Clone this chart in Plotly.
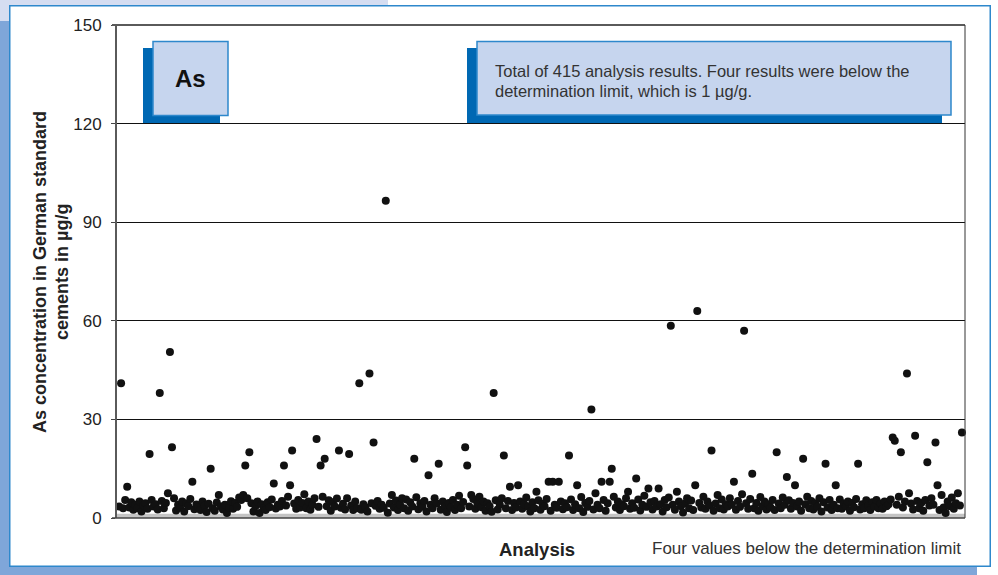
import plotly.graph_objects as go

# Data: As concentration (µg/g) for 415 analyses, in order
as_values = [
    3.5, 41, 3, 5.5, 9.5, 3.2, 4.8, 2.5, 4, 3, 5, 2, 3.8, 4.5, 2.8, 19.5, 5.5, 3.5, 4.2, 2.6,
    38, 5.2, 3, 4.6, 7.5, 50.5, 21.5, 6, 2.3, 4, 3.1, 5, 2, 4.4, 3.6, 5.8, 11, 2.7, 4.1, 3.3,
    2.4, 5, 3.7, 1.8, 4.3, 15, 3, 2.2, 4.7, 7, 3.5, 2.6, 4, 1.5, 3.2, 5.1, 2.8, 4.6, 3.4, 6.2,
    5.5, 7, 16, 6, 20, 4.5, 2, 3.6, 5, 1.5, 4.2, 3, 2.4, 4.8, 3.3, 5.6, 10.5, 2.9, 4, 3.5,
    5.2, 16, 3.8, 6.5, 10, 20.5, 4.4, 2.8, 5.5, 3.2, 4.6, 7.2, 3, 5, 2.5, 4, 6, 24, 3.4, 16,
    6.5, 18, 3.6, 5.4, 2.2, 4.8, 3.5, 5.9, 20.5, 3.1, 4.3, 2.6, 6, 19.5, 3.8, 2.4, 5, 3, 41, 2.5,
    4.2, 3.3, 2, 44, 4.5, 23, 3.7, 5.2, 2.8, 4, 3.1, 96.5, 1.6, 4.4, 7, 3.2, 5.3, 2.4, 4.1, 6,
    3, 5.6, 2.2, 4.8, 3.5, 18, 6.3, 2.7, 4.5, 3.4, 5.2, 2, 13, 4, 3, 6, 4.4, 16.5, 2.5, 5,
    3.6, 1.8, 4.6, 3.2, 5.5, 2.4, 4, 6.8, 3, 4.9, 21.5, 16, 3.5, 7, 5.8, 2.8, 4.4, 6.5, 3.3, 5,
    2.2, 4.5, 3.6, 1.9, 38, 5.4, 2.6, 4.1, 6, 19, 3, 5.2, 9.5, 2.4, 4.6, 3.2, 10, 5, 2.8, 4.2,
    6.2, 3.5, 2, 4.8, 3, 8, 5.4, 2.5, 4.3, 3.6, 5.8, 11, 2.2, 11, 4, 3.1, 11, 5, 2.7, 4.5,
    3.3, 19, 5.6, 2.4, 4.2, 10, 3, 6.4, 1.8, 4.6, 3.4, 5.2, 33, 2.6, 7.5, 4, 3, 11, 5.5, 2.2,
    4.5, 11, 15, 6.5, 3.2, 5, 2.4, 4.2, 3.6, 6, 8, 2.8, 4.5, 3.1, 12, 5.6, 2.3, 4, 6.8, 3.4,
    9, 4.8, 2.6, 5.2, 3.5, 9, 4.2, 2, 5.5, 3.3, 6.2, 58.5, 4, 2.5, 8, 5, 3.6, 1.7, 4.4, 6,
    3, 5.3, 2.4, 10, 63, 4.6, 3.2, 6.5, 2.8, 5, 3.8, 20.5, 2.2, 4.4, 7, 3, 5.6, 2.6, 4.2, 3.5,
    6, 4, 11, 2.5, 5.2, 3.4, 7.2, 57, 4.5, 2.8, 5.8, 13.5, 3, 4.6, 2.2, 6.4, 3.6, 5, 2.6, 4.2,
    3.2, 5.5, 2.4, 20, 4.4, 3, 6.2, 4, 12.5, 5.4, 2.8, 4.6, 10, 3.5, 5, 2.2, 18, 4.2, 6.5, 3,
    5.2, 2.6, 4.5, 3.4, 6, 2, 4.8, 16.5, 3.2, 5.5, 2.4, 4, 10, 3, 5.6, 2.8, 4.4, 3.6, 5, 2.2,
    4.6, 3.3, 5.8, 16.5, 2.6, 4.2, 3, 5.4, 3.8, 2.4, 4.8, 3.5, 5.5, 3, 4.4, 2.8, 5, 3.6, 4.2, 5.6,
    24.5, 23.5, 4, 6.5, 20, 3.2, 5, 44, 7.5, 4.4, 2.6, 25, 5.2, 3, 4.6, 2.2, 5.5, 17, 3.8, 6,
    4, 23, 10, 2.4, 7, 3.2, 1.5, 5, 3.6, 6.2, 2.8, 4.5, 7.5, 3.8, 26,
]
analysis_no = list(range(1, len(as_values) + 1))

y_ticks = [0, 30, 60, 90, 120, 150]

y_title_lines = ["As concentration in German standard", "cements in µg/g"]
x_title = "Analysis"
note_bottom = "Four values below the determination limit"
box_label = "As"
box_text_lines = ["Total of 415 analysis results. Four results were below the",
                  "determination limit, which is 1 µg/g."]

# Layout geometry (pixels)
W, H = 998, 575
L, R, T, B = 116, 965, 25, 518
PW, PH = R - L, B - T


def px(x):
    return (x - L) / PW


def py(y):
    return (B - y) / PH


FONT = "Liberation Sans, Arial, Helvetica, sans-serif"
LAV = "#d5ddf1"
DARKB = "#7fa6d9"
BORDER = "#2e88cc"
BOXFILL = "#c6d5ee"
SHADOW = "#0068b3"

fig = go.Figure()
fig.add_trace(go.Scatter(
    x=analysis_no, y=as_values, mode="markers",
    marker=dict(size=8, color="#111111", line=dict(width=0)),
    hoverinfo="x+y", showlegend=False, cliponaxis=False,
))

shapes = []
# background panel pieces
shapes.append(dict(type="rect", xref="paper", yref="paper", x0=px(0), x1=px(388), y0=py(5), y1=py(0),
                   fillcolor=LAV, line=dict(width=0), layer="below"))
shapes.append(dict(type="rect", xref="paper", yref="paper", x0=px(0), x1=px(10), y0=py(21), y1=py(0),
                   fillcolor=LAV, line=dict(width=0), layer="below"))
shapes.append(dict(type="rect", xref="paper", yref="paper", x0=px(0), x1=px(10), y0=py(575), y1=py(21),
                   fillcolor=DARKB, line=dict(width=0), layer="below"))
shapes.append(dict(type="rect", xref="paper", yref="paper", x0=px(0), x1=px(977), y0=py(575), y1=py(566),
                   fillcolor=DARKB, line=dict(width=0), layer="below"))
shapes.append(dict(type="rect", xref="paper", yref="paper", x0=px(9.75), x1=px(990.25), y0=py(566.25), y1=py(5.75),
                   fillcolor="white", line=dict(color=BORDER, width=1.5), layer="below"))
# gray band at the determination limit
shapes.append(dict(type="rect", xref="paper", yref="y", x0=0, x1=1, y0=0, y1=1.3,
                   fillcolor="#c4c4c4", line=dict(width=0), layer="below"))
# frame lines
shapes.append(dict(type="line", xref="paper", yref="paper", x0=px(112), x1=1, y0=1, y1=1,
                   line=dict(color="#5a5a5a", width=2)))
shapes.append(dict(type="line", xref="paper", yref="paper", x0=0, x1=0, y0=0, y1=1,
                   line=dict(color="#5a5a5a", width=2)))
shapes.append(dict(type="line", xref="paper", yref="paper", x0=1, x1=1, y0=0, y1=1,
                   line=dict(color="#333333", width=1)))
shapes.append(dict(type="line", xref="paper", yref="paper", x0=px(112), x1=1, y0=0, y1=0,
                   line=dict(color="#444444", width=1.5)))
# label boxes: shadows then fronts
shapes.append(dict(type="rect", xref="paper", yref="paper", x0=px(143), x1=px(220), y0=py(123), y1=py(48),
                   fillcolor=SHADOW, line=dict(width=0)))
shapes.append(dict(type="rect", xref="paper", yref="paper", x0=px(153), x1=px(228), y0=py(115.5), y1=py(41.5),
                   fillcolor=BOXFILL, line=dict(color=BORDER, width=1.5)))
shapes.append(dict(type="rect", xref="paper", yref="paper", x0=px(467), x1=px(942), y0=py(123), y1=py(48),
                   fillcolor=SHADOW, line=dict(width=0)))
shapes.append(dict(type="rect", xref="paper", yref="paper", x0=px(477), x1=px(951), y0=py(115), y1=py(41.5),
                   fillcolor=BOXFILL, line=dict(color=BORDER, width=1.5)))

annotations = [
    dict(text=f"<b>{box_label}</b>", xref="paper", yref="paper", x=px(190.5), y=py(78.5),
         xanchor="center", yanchor="middle", showarrow=False, font=dict(family=FONT, size=24, color="#111")),
    dict(text=box_text_lines[0], xref="paper", yref="paper", x=px(493), y=py(71),
         xanchor="left", yanchor="middle", align="left", showarrow=False,
         font=dict(family=FONT, size=16.5, color="#333")),
    dict(text=box_text_lines[1], xref="paper", yref="paper", x=px(493), y=py(90.5),
         xanchor="left", yanchor="middle", align="left", showarrow=False,
         font=dict(family=FONT, size=16.5, color="#333")),
    dict(text=f"<b>{y_title_lines[0]}</b>", xref="paper", yref="paper", x=px(40), y=py(272),
         xanchor="center", yanchor="middle", textangle=-90, showarrow=False,
         font=dict(family=FONT, size=18, color="#222")),
    dict(text=f"<b>{y_title_lines[1]}</b>", xref="paper", yref="paper", x=px(62), y=py(272),
         xanchor="center", yanchor="middle", textangle=-90, showarrow=False,
         font=dict(family=FONT, size=18, color="#222")),
    dict(text=f"<b>{x_title}</b>", xref="paper", yref="paper", x=px(537), y=py(549),
         xanchor="center", yanchor="middle", showarrow=False, font=dict(family=FONT, size=18.5, color="#222")),
    dict(text=note_bottom, xref="paper", yref="paper", x=px(963), y=py(548),
         xanchor="right", yanchor="middle", showarrow=False, font=dict(family=FONT, size=17, color="#333")),
]

fig.update_layout(
    width=W, height=H,
    margin=dict(l=L, r=W - R, t=T, b=H - B, pad=0),
    paper_bgcolor="white", plot_bgcolor="rgba(0,0,0,0)",
    shapes=shapes, annotations=annotations,
    xaxis=dict(range=[-0.5, 416.5], showticklabels=False, ticks="", showgrid=False,
               zeroline=False, showline=False, fixedrange=True),
    yaxis=dict(range=[0, 150], tickvals=y_ticks, ticktext=[str(v) for v in y_ticks],
               ticks="outside", ticklen=4, tickcolor="#444", tickwidth=1,
               showgrid=True, gridcolor="#111", gridwidth=1, zeroline=False, showline=False,
               tickfont=dict(family=FONT, size=17, color="#222"), ticklabelstandoff=6),
    font=dict(family=FONT),
    showlegend=False,
)

fig.write_html("out.html")
